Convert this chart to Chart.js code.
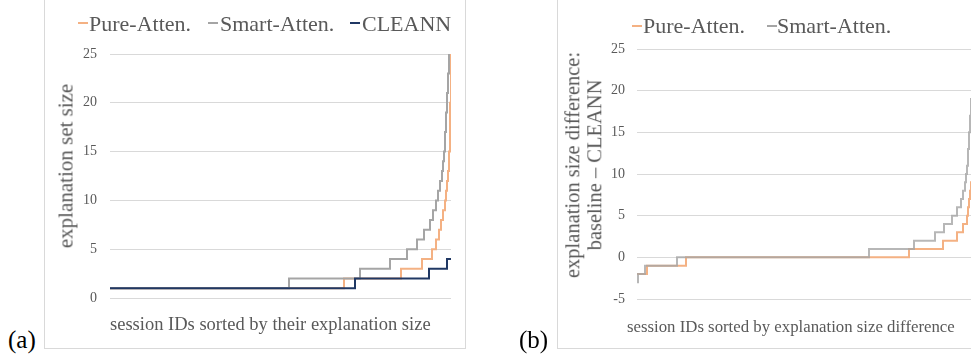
<!DOCTYPE html>
<html><head><meta charset="utf-8">
<script src="https://cdn.jsdelivr.net/npm/chart.js@4.4.1/dist/chart.umd.min.js"></script>
<style>
html,body{margin:0;padding:0;background:#fff;}
body{width:971px;height:358px;overflow:hidden;position:relative;font-family:"Liberation Serif","Times New Roman",serif;color:#595959;}
.frame{position:absolute;border:1px solid #d9d9d9;box-sizing:border-box;}
.abs{position:absolute;white-space:nowrap;}
.mk{position:absolute;height:2px;width:10px;}
canvas{position:absolute;top:0;}
</style>
</head><body>
<div class="frame" style="left:44px;top:-2px;width:422px;height:351px"></div>
<div class="frame" style="left:557px;top:-2px;width:460px;height:351px"></div>
<canvas id="ca" width="421" height="348" style="left:44px;width:421px;height:348px"></canvas>
<canvas id="cb" width="440" height="348" style="left:557px;width:440px;height:348px"></canvas>

<!-- legends -->
<div class="mk" style="left:78px;top:22px;background:#F4B183"></div>
<div class="abs" style="left:89px;top:12.6px;font-size:22px;line-height:22px">Pure-Atten.</div>
<div class="mk" style="left:208px;top:22px;background:#A5A5A5"></div>
<div class="abs" style="left:220px;top:12.6px;font-size:22px;line-height:22px">Smart-Atten.</div>
<div class="mk" style="left:350px;top:22px;background:#203864"></div>
<div class="abs" style="left:362px;top:12.6px;font-size:22px;line-height:22px">CLEANN</div>

<div class="mk" style="left:632px;top:25px;background:#F4B183"></div>
<div class="abs" style="left:643px;top:15px;font-size:22px;line-height:22px">Pure-Atten.</div>
<div class="mk" style="left:767px;top:25px;background:#A5A5A5"></div>
<div class="abs" style="left:777px;top:15px;font-size:22px;line-height:22px">Smart-Atten.</div>

<!-- axis titles -->
<div class="abs" style="left:66px;top:166px;font-size:21px;line-height:21px;transform:translate(-50%,-50%) rotate(-90deg)">explanation set size</div>
<div class="abs" style="left:584px;top:165px;font-size:20.5px;line-height:21.7px;text-align:center;transform:translate(-50%,-50%) rotate(-90deg)">explanation size difference:<br>baseline – CLEANN</div>
<div class="abs" style="left:110px;top:314.5px;font-size:18.5px;line-height:18.5px">session IDs sorted by their explanation size</div>
<div class="abs" style="left:627px;top:319px;font-size:16.8px;line-height:16.8px">session IDs sorted by explanation size difference</div>

<!-- panel labels -->
<div class="abs" style="left:8px;top:326.6px;font-size:25px;line-height:25px;color:#000">(a)</div>
<div class="abs" style="left:519px;top:326.6px;font-size:25px;line-height:25px;color:#000">(b)</div>

<script>
// ---- data (session rank where a level starts, and the level) ----
const pureA_session   = [0,234,291,312,322,326,329,331,333,335,336,337,338,339,340,341];
const pureA_size      = [1,2,3,4,5,6,7,8,9,10,11,12,13,15,20,26];
const smartA_session  = [0,179,250,280,297,307,314,320,323,326,328,330,332,333,334,335,336,337,338,339];
const smartA_size     = [1,2,3,4,5,6,7,8,9,10,11,12,13,14,15,17,19,21,23,26];
const cleannA_session = [0,245,319,337,341];
const cleannA_size    = [1,2,3,4,4];
const sessionsA = 341;

const pureB_session  = [0,10,49,272,306,320,326,330,331,332,333,334,335,336,337,338,339];
const pureB_diff     = [-2,-1,0,1,2,3,4,5,6,7,8,9,11,13,15,17,20];
const smartB_session = [0,1,8,40,232,277,298,307,315,320,324,326,328,329,330,331,332,333,334,335,336,337,338,339];
const smartB_diff    = [-3,-2,-1,0,1,2,3,4,5,6,7,8,9,10,11,13,15,17,19,21,23,25,27,29];
const sessionsB = 339;

const yTicksA = [0,5,10,15,20,25];
const yTicksB = [-5,0,5,10,15,20,25];

const ORANGE = '#F4B183', GRAY = '#A5A5A5', NAVY = '#203864';
const pts = (xs, ys) => xs.map((x, i) => ({x: x, y: ys[i]}));

function lineDS(label, data, color, order){
  return {label, data, borderColor: color, backgroundColor: color, borderWidth: 2,
          stepped: 'before', pointRadius: 0, tension: 0, fill: false, order};
}

function makeChart(id, datasets, xmax, ticks, tickPad, pad){
  return new Chart(document.getElementById(id), {
    type: 'line',
    data: {datasets},
    options: {
      responsive: false, animation: false, devicePixelRatio: 1,
      layout: {padding: pad},
      plugins: {legend: {display: false}, tooltip: {enabled: false}},
      scales: {
        x: {type: 'linear', min: 0, max: xmax, display: false},
        y: {
          min: ticks[0], max: ticks[ticks.length-1],
          afterBuildTicks: (ax) => { ax.ticks = ticks.map(v => ({value: v})); },
          afterFit: (ax) => { ax.width = 40; },
          grid: {color: '#d9d9d9', lineWidth: 1, drawTicks: false},
          border: {display: false},
          ticks: {padding: tickPad, color: '#595959',
                  font: {family: '"Liberation Serif","Times New Roman",serif', size: 14}}
        }
      }
    }
  });
}

makeChart('ca', [
  lineDS('Pure-Atten.', pts(pureA_session, pureA_size), ORANGE, 2),
  lineDS('Smart-Atten.', pts(smartA_session, smartA_size), GRAY, 1),
  lineDS('CLEANN', pts(cleannA_session, cleannA_size), NAVY, 0)
], sessionsA, yTicksA, 13, {left: 26, right: 14, top: 54, bottom: 50});

makeChart('cb', [
  lineDS('Pure-Atten.', pts(pureB_session, pureB_diff), ORANGE, 2),
  lineDS('Smart-Atten.', pts(smartB_session, smartB_diff), 'rgba(165,165,165,0.8)', 1)
], sessionsB, yTicksB, 12, {left: 40, right: 21, top: 49, bottom: 49});
</script>
</body></html>
